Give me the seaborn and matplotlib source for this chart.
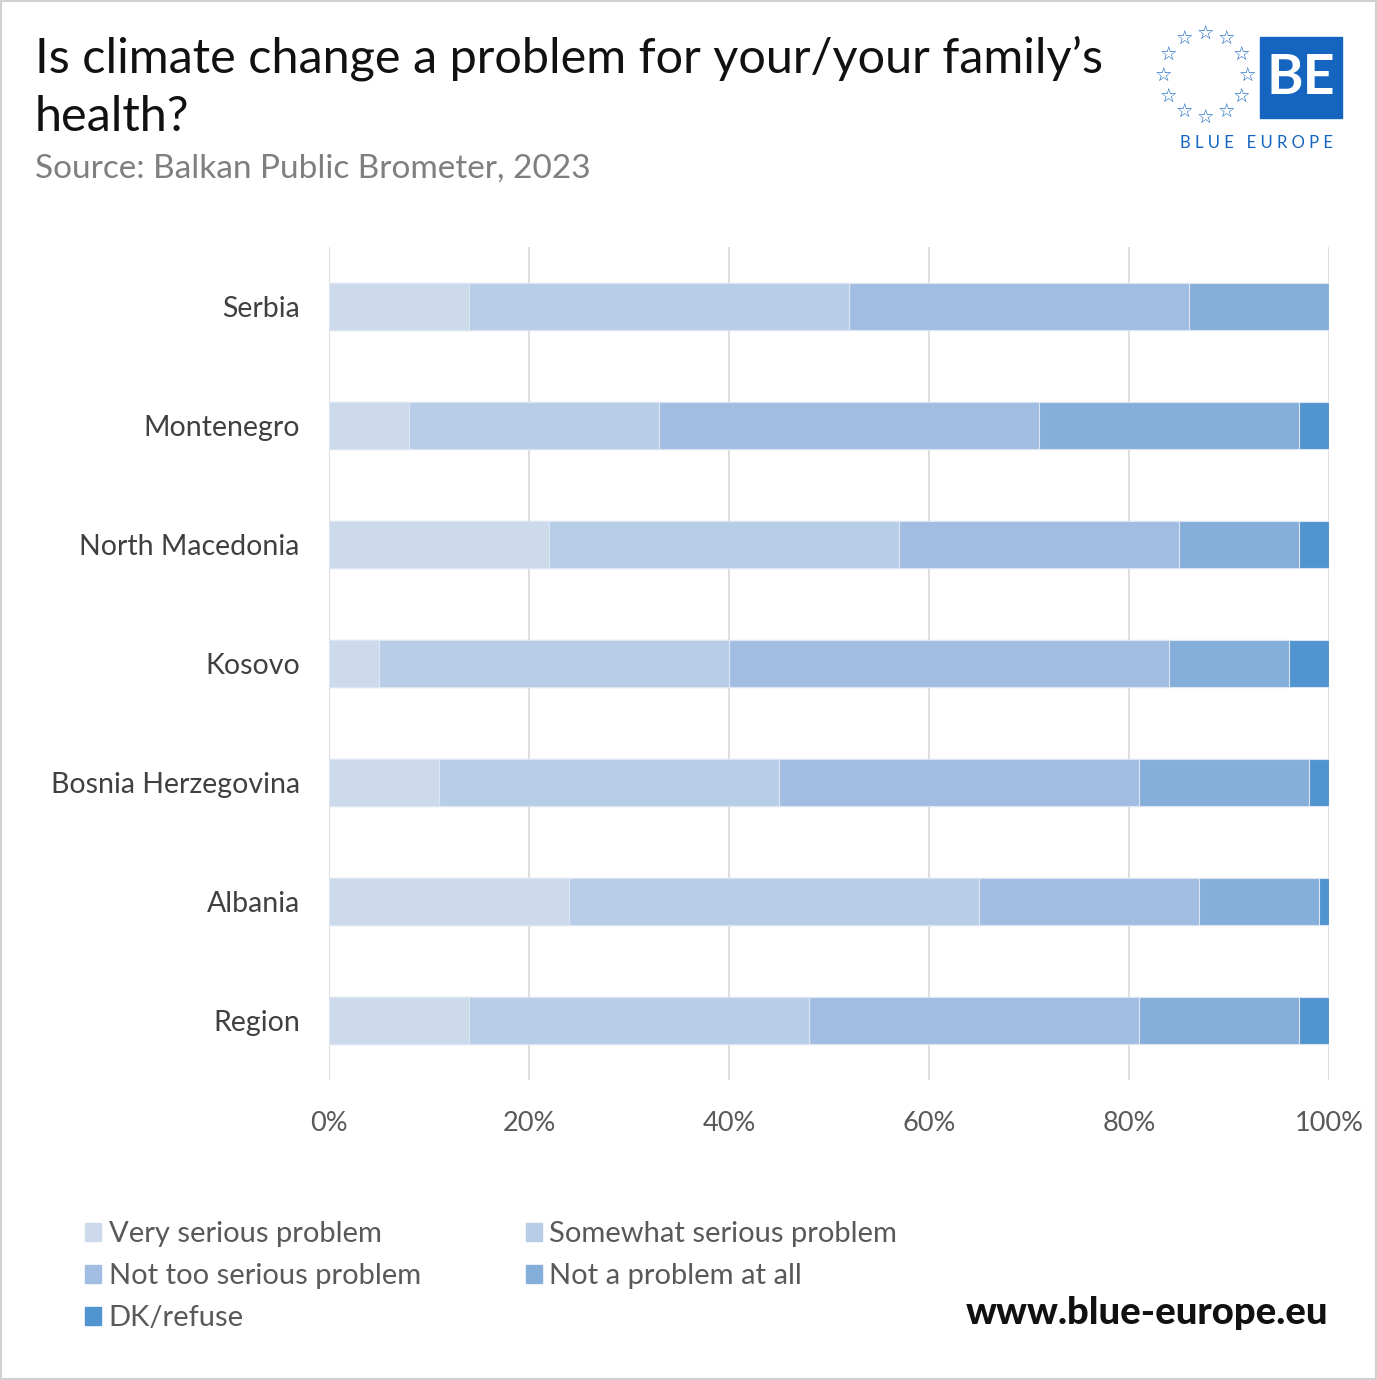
import numpy as np
import pandas as pd
import matplotlib
matplotlib.use("Agg")
import matplotlib.pyplot as plt
import matplotlib.patches as mpatches
import seaborn as sns

# data (percent)
countries = ["Serbia", "Montenegro", "North Macedonia", "Kosovo",
             "Bosnia Herzegovina", "Albania", "Region"]
very_serious = [14, 8, 22, 5, 11, 24, 14]
somewhat_serious = [38, 25, 35, 35, 34, 41, 34]
not_too_serious = [34, 38, 28, 44, 36, 22, 33]
not_a_problem = [14, 26, 12, 12, 17, 12, 16]
dk_refuse = [0, 3, 3, 4, 2, 1, 3]

series_names = ["Very serious problem", "Somewhat serious problem",
                "Not too serious problem", "Not a problem at all", "DK/refuse"]
colors = ["#CCDAEC", "#B8CDE8", "#A2BDE2", "#85AEDB", "#5094D0"]

df = pd.DataFrame({
    "country": countries,
    series_names[0]: very_serious,
    series_names[1]: somewhat_serious,
    series_names[2]: not_too_serious,
    series_names[3]: not_a_problem,
    series_names[4]: dk_refuse,
})
cum = df[series_names].cumsum(axis=1)

sns.set_style("white")
plt.rcParams["font.family"] = ["Lato", "DejaVu Sans"]

fig = plt.figure(figsize=(13.77, 13.80), dpi=100)
ax = fig.add_axes([329 / 1377, 1 - 1080 / 1380, 1000 / 1377, 833 / 1380])

# draw cumulative bars from the right-most segment backwards
for name, col in reversed(list(zip(series_names, colors))):
    sns.barplot(x=cum[name], y=df["country"], orient="h", color=col,
                width=0.4, edgecolor="#dce6f3", linewidth=0.8, ax=ax,
                saturation=1, zorder=3)

ax.set_xlim(0, 100)
ax.set_ylim(6.5, -0.5)
ax.set_xticks(range(0, 101, 20))
ax.set_xticklabels([f"{v}%" for v in range(0, 101, 20)])
ax.grid(axis="x", color="#d9d9d9", linewidth=1.2, zorder=0)
ax.set_axisbelow(True)
for s in ax.spines.values():
    s.set_visible(False)
ax.set_xlabel("")
ax.set_ylabel("")
ax.tick_params(axis="x", labelsize=19.5, labelcolor="#595959", pad=22, length=0)
ax.tick_params(axis="y", labelsize=20.5, labelcolor="#404040", pad=21, length=0)

# titles
fig.text(35 / 1377, 1 - 58 / 1380, "Is climate change a problem for your/your family\u2019s",
         fontsize=35, color="#111111", va="center", ha="left")
fig.text(35 / 1377, 1 - 117 / 1380, "health?",
         fontsize=35, color="#111111", va="center", ha="left")
fig.text(35 / 1377, 1 - 169 / 1380, "Source: Balkan Public Brometer, 2023",
         fontsize=24, color="#7f7f7f", va="center", ha="left")

# legend, row-wise order in two columns
handles = [mpatches.Patch(color=c, label=n) for n, c in zip(series_names, colors)]
order = [0, 2, 4, 1, 3]
fig.legend([handles[i] for i in order], [series_names[i] for i in order],
           ncol=2, loc="upper left", bbox_to_anchor=(59 / 1377, 1 - 1195 / 1380),
           frameon=False, fontsize=21, labelcolor="#595959",
           handlelength=0.55, handleheight=0.55, handletextpad=0.25,
           columnspacing=3.6, labelspacing=0.55)

fig.text(1328 / 1377, 1 - 1313 / 1380, "www.blue-europe.eu", fontsize=27.5,
         fontweight="black", color="#111111", ha="right", va="center")

# logo
blue = "#1565C0"
fig.patches.append(mpatches.Rectangle((1260 / 1377, 1 - 118 / 1380), 82 / 1377, 81 / 1380,
                                      transform=fig.transFigure, color=blue))
fig.text(1301 / 1377, 1 - 78 / 1380, "BE", fontsize=40, fontweight="bold",
         color="white", ha="center", va="center")
fig.text(1256 / 1377, 1 - 143 / 1380, "B L U E   E U R O P E", fontsize=12,
         color=blue, ha="center", va="center")
cx, cy, r = 1205, 76, 42
for k in range(12):
    a = np.pi / 2 - k * 2 * np.pi / 12
    fig.text((cx + r * np.cos(a)) / 1377, 1 - (cy - r * np.sin(a)) / 1380, "\u2606",
             fontsize=14, color=blue, ha="center", va="center", family="DejaVu Sans")

# light frame round the picture
fig.patches.append(mpatches.Rectangle((0.001, 0.001), 0.998, 0.998, transform=fig.transFigure,
                                      fill=False, edgecolor="#d0d0d0", linewidth=1.5))

fig.savefig("out.png", dpi=100)
